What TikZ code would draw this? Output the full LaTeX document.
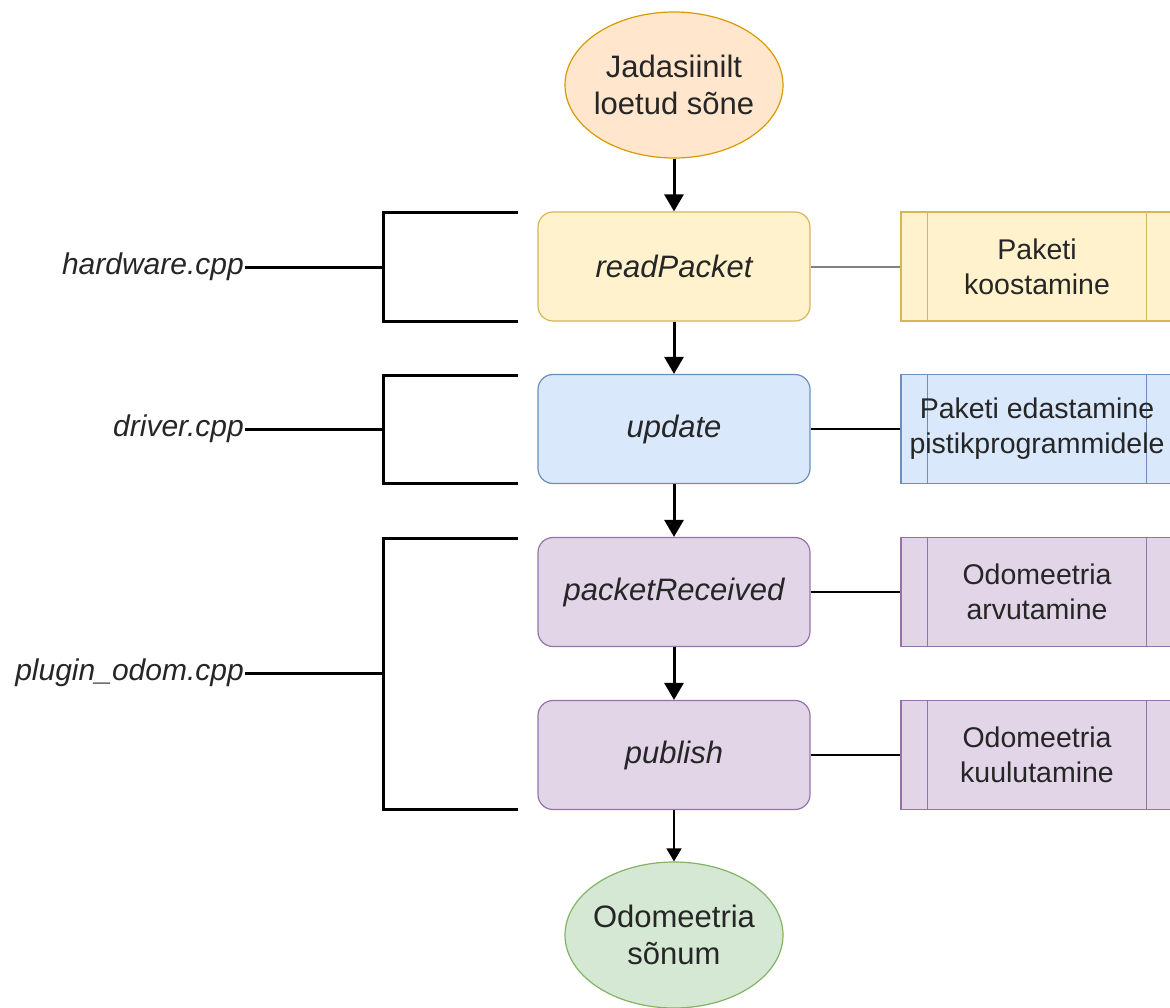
\documentclass[tikz,border=0pt]{standalone}
\usepackage{fontspec}
\setmainfont{Liberation Sans}
\usetikzlibrary{shapes.geometric,arrows.meta}
\definecolor{peachF}{HTML}{FFE6CC}\definecolor{peachD}{HTML}{D79B00}
\definecolor{yelF}{HTML}{FFF2CC}\definecolor{yelD}{HTML}{D6B656}
\definecolor{bluF}{HTML}{DAE8FC}\definecolor{bluD}{HTML}{6C8EBF}
\definecolor{purF}{HTML}{E1D5E7}\definecolor{purD}{HTML}{9673A6}
\definecolor{grnF}{HTML}{D5E8D4}\definecolor{grnD}{HTML}{82B366}
\definecolor{txt}{HTML}{262626}
\tikzset{
  x=1pt,y=-1pt,
  ellnode/.style={ellipse,minimum width=218pt,minimum height=146pt,inner sep=0pt,line width=1.2pt},
  elltext/.style={font=\fontsize{31}{37}\selectfont,align=center,text=txt},
  funcbox/.style={rectangle,rounded corners=15pt,minimum width=272pt,minimum height=109pt,line width=1.2pt,
    font=\fontsize{31}{37}\selectfont\itshape,text=txt},
  procbox/.style={rectangle,minimum width=272pt,minimum height=109pt,line width=1.2pt,inner sep=0pt,
    font=\fontsize{28.5}{35}\selectfont,align=center,text=txt},
  filelbl/.style={anchor=east,inner sep=1pt,font=\fontsize{30}{36}\selectfont\itshape,text=txt},
  flow/.style={line width=3pt,-{Triangle[length=17pt,width=19pt]}},
  flowthin/.style={line width=1.6pt,-{Triangle[length=13pt,width=15pt]}},
  bracket/.style={line width=3pt},
  link/.style={line width=1.4pt},
}
\begin{document}
\begin{tikzpicture}
\useasboundingbox (0,0) rectangle (1170,1007);
\clip (0,0) rectangle (1170,1007);
% main column
\node[ellnode,fill=peachF,draw=peachD,label={[elltext]center:Jadasiinilt\\loetud sõne}] (start) at (674,85) {};
\node[funcbox,fill=yelF,draw=yelD] (rp) at (674,266.5) {readPacket};
\node[funcbox,fill=bluF,draw=bluD] (up) at (674,429) {update};
\node[funcbox,fill=purF,draw=purD] (pr) at (674,592) {packetReceived};
\node[funcbox,fill=purF,draw=purD] (pu) at (674,755) {publish};
\node[ellnode,fill=grnF,draw=grnD,label={[elltext]center:Odomeetria\\sõnum}] (end) at (674,935) {};
% process boxes
\node[procbox,fill=yelF,draw=yelD] (p1) at (1037,266.5) {Paketi\\koostamine};
\node[procbox,fill=bluF,draw=bluD] (p2) at (1037,429) {};
\node[procbox,fill=purF,draw=purD] (p3) at (1037,592) {Odomeetria\\arvutamine};
\node[procbox,fill=purF,draw=purD] (p4) at (1037,755) {Odomeetria\\kuulutamine};
\foreach \p/\c in {p1/yelD,p2/bluD,p3/purD,p4/purD}{
  \draw[\c,line width=1.2pt] ([xshift=27pt]\p.north west) -- ([xshift=27pt]\p.south west);
  \draw[\c,line width=1.2pt] ([xshift=-27pt]\p.north east) -- ([xshift=-27pt]\p.south east);
}
\node[procbox,draw=none,fill=none] (p2t) at (p2.center) {Paketi edastamine\\pistikprogrammidele};
% arrows
\draw[flow] (start) -- (rp);
\draw[flow] (rp) -- (up);
\draw[flow] (up) -- (pr);
\draw[flow] (pr) -- (pu);
\draw[flowthin] (pu) -- (end);
% links
\draw[link,draw=gray,line width=2pt] (rp) -- (p1);
\draw[link] (up) -- (p2);
\draw[link] (pr) -- (p3);
\draw[link] (pu) -- (p4);
% file labels and brackets
\node[filelbl] (hw) at (245,267) {hardware.cpp};
\node[filelbl] (dr) at (245,429) {driver.cpp};
\node[filelbl] (po) at (245,673) {plugin\_odom.cpp};
\coordinate (hwj) at (383,267);
\coordinate (drj) at (383,429);
\coordinate (poj) at (383,673);
\draw[bracket] (518,212) -- (383,212) -- (383,321) -- (518,321);
\draw[bracket] (518,375) -- (383,375) -- (383,483) -- (518,483);
\draw[bracket] (518,538) -- (383,538) -- (383,809) -- (518,809);
\draw[bracket] (hw.east) -- (hwj);
\draw[bracket] (dr.east) -- (drj);
\draw[bracket] (po.east) -- (poj);
\end{tikzpicture}
\end{document}
